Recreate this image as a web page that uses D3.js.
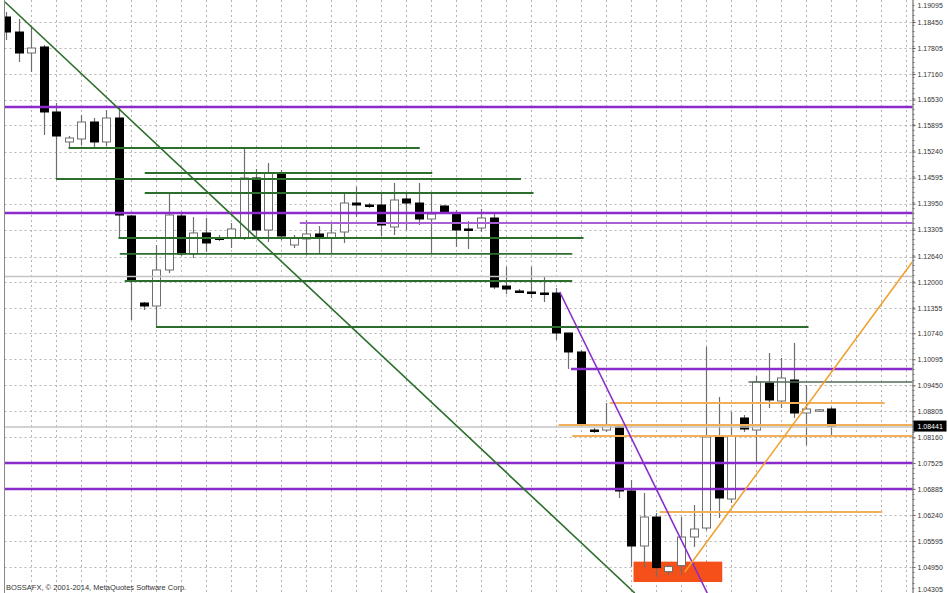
<!DOCTYPE html>
<html><head><meta charset="utf-8">
<script src="https://cdn.jsdelivr.net/npm/d3@7"></script>
<style>html,body{margin:0;padding:0;background:#fff;}svg{display:block;}</style>
</head><body>
<svg id="chart" width="948" height="593"></svg>
<script>
// ---------- DATA ----------
const opens  = [1.18574,1.18202,1.17682,1.17831,1.16221,1.15478,1.15552,1.15973,1.15478,1.16072,
                1.13645,1.11489,1.11415,1.12307,1.13645,1.12704,1.13224,1.13100,1.13100,1.13100,
                1.14586,1.13298,1.14710,1.12926,1.13075,1.13199,1.13100,1.13248,1.13966,1.13917,
                1.13917,1.13372,1.14066,1.13966,1.13570,1.13892,1.13719,1.13323,1.13347,1.13595,
                1.11910,1.11787,1.11762,1.11737,1.11737,1.10746,1.10276,1.08343,1.08343,1.08418,
                1.06833,1.05470,1.06188,1.04836,1.04985,1.05693,1.05916,1.08170,1.06634,1.08641,
                1.08343,1.09508,1.09062,1.09582,1.08765,1.08839,1.08864];
const highs  = [1.18698,1.18524,1.18326,1.17880,1.16444,1.15626,1.16148,1.16072,1.16270,1.16320,
                1.13669,1.11514,1.12926,1.14214,1.13744,1.13620,1.13595,1.13174,1.13471,1.15329,
                1.14809,1.14957,1.14784,1.13174,1.13545,1.13397,1.13496,1.14214,1.14363,1.13966,
                1.14239,1.14462,1.14214,1.14462,1.14214,1.13917,1.13793,1.13521,1.13818,1.13719,
                1.12382,1.11836,1.12382,1.12134,1.11861,1.10746,1.10325,1.08393,1.09012,1.08467,
                1.07105,1.06783,1.06287,1.05009,1.06188,1.06486,1.10400,1.09161,1.08789,1.08715,
                1.09681,1.10251,1.10127,1.10498,1.09458,1.08864,1.08913];
const lows   = [1.18004,1.17459,1.17211,1.15651,1.14561,1.15329,1.15403,1.15354,1.15378,1.13100,
                1.11068,1.11316,1.10895,1.12233,1.12654,1.12604,1.12753,1.13026,1.12852,1.13050,
                1.13100,1.13001,1.13050,1.12852,1.12679,1.12704,1.12704,1.12976,1.13620,1.13843,
                1.13149,1.13174,1.13298,1.13422,1.12728,1.13694,1.12877,1.12827,1.13248,1.11836,
                1.11712,1.11737,1.11613,1.11514,1.10573,1.09855,1.08418,1.08269,1.08294,1.06659,
                1.04960,1.04935,1.04702,1.04752,1.04752,1.05445,1.05866,1.06164,1.06535,1.08294,
                1.07551,1.08888,1.08888,1.08641,1.07972,1.08789,1.08220];
const closes = [1.18202,1.17682,1.17806,1.16221,1.15626,1.15577,1.15973,1.15478,1.16072,1.13669,
                1.12035,1.11415,1.12307,1.13669,1.12704,1.13224,1.12976,1.13090,1.13323,1.14586,
                1.13298,1.14710,1.13149,1.13100,1.13199,1.13125,1.13224,1.13966,1.13917,1.13905,
                1.13422,1.14041,1.13966,1.13570,1.13694,1.13719,1.13298,1.13300,1.13595,1.11886,
                1.11836,1.11775,1.11750,1.11730,1.10746,1.10276,1.08492,1.08330,1.08467,1.06833,
                1.05470,1.06188,1.04935,1.04960,1.05693,1.05891,1.08170,1.06659,1.08195,1.08368,
                1.09532,1.09087,1.09632,1.08765,1.08864,1.08845,1.08441];

const yTickLabels = ["1.19095","1.18450","1.17805","1.17160","1.16530","1.15895","1.15240","1.14595",
                     "1.13950","1.13305","1.12640","1.12000","1.11355","1.10740","1.10095","1.09450",
                     "1.08805","1.08160","1.07525","1.06885","1.06240","1.05595","1.04950","1.04305"];
const currentPrice = 1.08441;

// horizontal levels: price, from bar index, to bar index
const greenLevels = [1.15329,1.14561,1.14710,1.14214,1.13100,1.12704,1.12035,1.10895];
const greenFrom   = [5,     4,      11.1,   11.1,   9,      9.1,    9.5,    12];
const greenTo     = [33.1,  41.2,   34.1,   42.2,   46.2,   45.3,   45.3,   64.2];

const purpleLevels = [1.16345,1.13719,1.09855,1.07526,1.06882];
const purpleFrom   = [-1,     -1,     45.2,   -1,     -1];
const purpleTo     = [80,     80,     80,     80,     80];
const lilacLevels  = [1.13471];
const lilacFrom    = [23.5];
const lilacTo      = [80];

const grayLevels = [1.12146,1.08418];
const darkLevels = [1.09532];
const darkFrom   = [59.4];
const darkTo     = [80];

const orangeLevels = [1.09012,1.08467,1.08195,1.06312];
const orangeFrom   = [48.3,   44.2,   45.3,   52.3];
const orangeTo     = [70.3,   80,     80,     70.1];

// trend lines: [barIndex, price] pairs
const greenTrend  = [[-0.08,1.18945],[50.3,1.04306]];
const purpleTrend = [[44.3,1.11762],[56.1,1.04306]];
const orangeTrend = [[54.3,1.04826],[72.5,1.12505]];

// rectangle zone: bar range and price range
const zoneBars   = [50.2,57.3];
const zonePrices = [1.05083,1.04578];

const footerText = "BOSSAFX, © 2001-2014, MetaQuotes Software Corp.";

// ---------- DRAW ----------
const W = 948, H = 593;
const plotLeft = 4.5, plotRight = 912.5;
const svg = d3.select("#chart");

const x = d3.scaleLinear().domain([0, 66]).range([6, 831]);
const y = d3.scaleLinear().domain([1.04950, 1.18450]).range([567, 22]);

svg.append("defs").append("clipPath").attr("id","plot")
  .append("rect").attr("x",plotLeft).attr("y",0).attr("width",plotRight-plotLeft).attr("height",H);

const g = svg.append("g").attr("clip-path","url(#plot)");

// grid
const gridCols = d3.range(2, 73, 2);
g.selectAll("line.vg").data(gridCols).join("line")
  .attr("x1", d => Math.round(x(d))+0.5).attr("x2", d => Math.round(x(d))+0.5)
  .attr("y1", 0).attr("y2", H)
  .attr("stroke","#b4b4b4").attr("stroke-width",1).attr("stroke-dasharray","2,3");
g.selectAll("line.hg").data(yTickLabels).join("line")
  .attr("x1", plotLeft).attr("x2", plotRight)
  .attr("y1", d => Math.round(y(+d))+0.5).attr("y2", d => Math.round(y(+d))+0.5)
  .attr("stroke","#b4b4b4").attr("stroke-width",1).attr("stroke-dasharray","2,3");

// zone rectangle (background)
g.append("rect")
  .attr("x", x(zoneBars[0])).attr("width", x(zoneBars[1]) - x(zoneBars[0]))
  .attr("y", y(zonePrices[0])).attr("height", y(zonePrices[1]) - y(zonePrices[0]))
  .attr("fill","#f5501a");

// candles
const step = x(1) - x(0);
const bw = Math.round(step * 0.64);
const bars = d3.range(opens.length).map(i => ({i, o:opens[i], h:highs[i], l:lows[i], c:closes[i]}));
const cg = g.append("g");
cg.selectAll("line.wick").data(bars).join("line")
  .attr("x1", d => Math.round(x(d.i))+0.5).attr("x2", d => Math.round(x(d.i))+0.5)
  .attr("y1", d => y(d.h)).attr("y2", d => y(d.l))
  .attr("stroke","#6e6e6e").attr("stroke-width",1.2);
cg.selectAll("rect.body").data(bars).join("rect")
  .attr("x", d => Math.round(x(d.i)) - bw/2 + 0.5)
  .attr("width", bw)
  .attr("y", d => y(Math.max(d.o, d.c)))
  .attr("height", d => Math.max(1.5, Math.abs(y(d.o) - y(d.c))))
  .attr("fill", d => d.c >= d.o ? "#ffffff" : "#000000")
  .attr("stroke", d => d.c >= d.o ? "#6e6e6e" : "#000000")
  .attr("stroke-width", 1);

// horizontal level helper
function levels(prices, from, to, color, width) {
  g.append("g").selectAll("line").data(prices).join("line")
    .attr("x1", (d,k) => from ? x(from[k]) : plotLeft)
    .attr("x2", (d,k) => to ? x(to[k]) : plotRight)
    .attr("y1", d => y(d)).attr("y2", d => y(d))
    .attr("stroke", color).attr("stroke-width", width);
}
levels(grayLevels, null, null, "#c4c4c4", 1.5);
levels(greenLevels, greenFrom, greenTo, "#2c6e2c", 1.8);
levels(darkLevels, darkFrom, darkTo, "#556b55", 1.6);
levels(orangeLevels, orangeFrom, orangeTo, "#f2b05a", 2.2);
levels(lilacLevels, lilacFrom, lilacTo, "#a860d4", 2);
levels(purpleLevels, purpleFrom, purpleTo, "#8a2ccc", 2.6);

// trend lines
const tline = d3.line().x(d => x(d[0])).y(d => y(d[1]));
g.append("path").attr("d", tline(greenTrend)).attr("fill","none").attr("stroke","#2c6e2c").attr("stroke-width",1.6);
g.append("path").attr("d", tline(purpleTrend)).attr("fill","none").attr("stroke","#8a2ccc").attr("stroke-width",1.6);
g.append("path").attr("d", tline(orangeTrend)).attr("fill","none").attr("stroke","#f0a030").attr("stroke-width",1.6);

// left border
svg.append("line").attr("x1",plotLeft).attr("x2",plotLeft).attr("y1",0).attr("y2",H)
  .attr("stroke","#8a8a8a").attr("stroke-width",1);

// right axis
const axisG = svg.append("g").attr("transform", `translate(${plotRight},0)`);
const yAxis = d3.axisRight(y).tickValues(yTickLabels.map(Number)).tickSize(3)
  .tickFormat((d,k) => yTickLabels[k]);
axisG.call(yAxis);
axisG.select(".domain").attr("stroke","#555").attr("d", `M0.5,0V${H}`);
axisG.selectAll(".tick line").attr("stroke","#555");
axisG.selectAll(".tick text").attr("fill","#333").attr("font-family","Liberation Sans, Arial, sans-serif")
  .attr("font-size","7px").attr("x",5)
  .attr("y", d => {
    const ty = y(d);
    if (ty < 5) return 5 - ty;
    if (ty > H - 4) return (H - 4) - ty;
    return 0;
  });
// minor ticks
const minor = d3.range(1.04305, 1.19100, 0.00645/5);
axisG.append("g").selectAll("line").data(minor).join("line")
  .attr("x1",0).attr("x2",2).attr("y1", d => Math.round(y(d))+0.5).attr("y2", d => Math.round(y(d))+0.5)
  .attr("stroke","#777").attr("stroke-width",1);

// current price tag
const cp = y(currentPrice);
svg.append("rect").attr("x", plotRight+1).attr("y", cp-5.5).attr("width", 33).attr("height", 11).attr("fill","#000");
svg.append("text").attr("x", plotRight+5).attr("y", cp+2.5).text(currentPrice.toFixed(5))
  .attr("fill","#fff").attr("font-family","Liberation Sans, Arial, sans-serif").attr("font-size","7px");

// footer
svg.append("text").attr("x", 6).attr("y", 590).text(footerText)
  .attr("fill","#333").attr("font-family","Liberation Sans, Arial, sans-serif").attr("font-size","7.5px");
</script>
</body></html>
